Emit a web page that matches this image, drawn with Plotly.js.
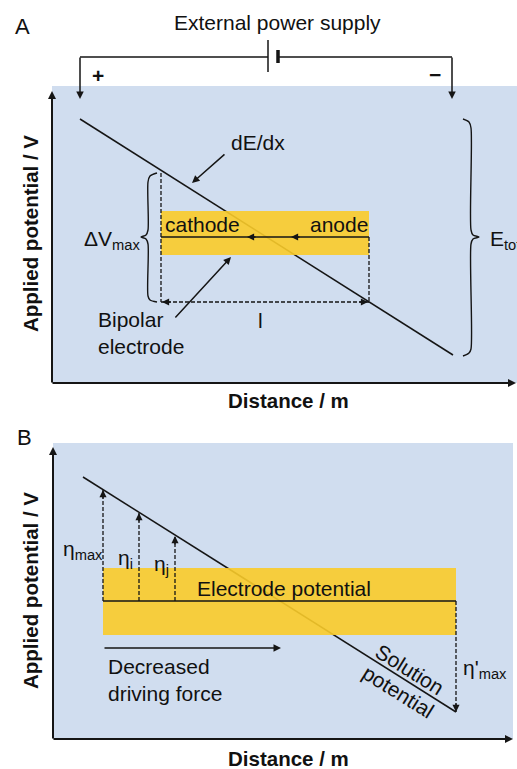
<!DOCTYPE html>
<html><head><meta charset="utf-8">
<script src="https://cdn.plot.ly/plotly-3.0.1.min.js"></script>
<style>html,body{margin:0;padding:0;background:#fff}</style>
</head><body><div id="chart" style="width:517px;height:769px"></div>
<script>
// ===== Diagram data (units: figure pixels, y grows downward) =====
// Panel A
const bgA_x = [52, 517], bgA_y = [86, 383];
const solutionA_x = [80, 453], solutionA_y = [119, 355];
const bandA_x = [161, 369, 369, 161, 161], bandA_y = [211, 211, 255, 255, 211];
const electrodeA_x = [161, 369], electrodeA_y = [237, 237];
const dashLeftA_x = [161, 161], dashLeftA_y = [173, 302];
const dashRightA_x = [369, 369], dashRightA_y = [237, 302];
const lengthA_x = [161, 369], lengthA_y = [302, 302];
const braceDV_x = [157, 150, 148, 148, 146, 141, 146, 148, 148, 150, 157];
const braceDV_y = [173, 176, 182, 230, 235, 237, 239, 244, 296, 300, 302];
const braceE_x = [463, 469, 471, 471, 473, 479, 473, 471, 471, 469, 463];
const braceE_y = [119, 122, 128, 230, 235, 237, 239, 244, 349, 353, 356];
const wireL_x = [80, 268], wireR_x = [278, 452], wire_y = [57, 57];
const plateLong_x = [268, 268], plateLong_y = [40, 72];
const plateShort_x = [278, 278], plateShort_y = [50, 63];
// Panel B
const bgB_x = [53, 513], bgB_y = [443, 739];
const solutionB_x = [83, 456], solutionB_y = [477, 712];
const bandB_x = [103, 456, 456, 103, 103], bandB_y = [568, 568, 635, 635, 568];
const electrodeB_x = [103, 456], electrodeB_y = [601, 601];
const eta_x = [103, 139, 175], eta_top = [490, 513, 536], eta_base = 601;
const etaPrime_x = [456, 456], etaPrime_y = [601, 712];
const driving_x = [103, 281], driving_y = [648, 648];

// arrows: [headX, headY, tailX, tailY]
const axisArrows = [
  [52, 91, 52, 384], [516, 383, 51, 383],
  [53, 447, 53, 740], [513, 739, 52, 739]
];
const wireArrows = [[80, 99, 80, 56], [452, 99, 452, 56]];
const pointerArrows = [
  [192, 183, 226, 153],   // dE/dx
  [231, 257, 174, 319],   // Bipolar electrode
  [281, 648, 103, 648]    // decreased driving force
];
const tipArrows = [
  [247, 237, 257, 237], [291, 237, 301, 237], // current along electrode
  [162, 302, 172, 302], [368, 302, 358, 302], // length l
  [103, 490, 103, 500], [139, 513, 139, 523], [175, 536, 175, 546], // eta
  [456, 712, 456, 702]  // eta'max
];

// ===== Plotly =====
const K = '#151515';
const ln = (x, y, extra) => Object.assign({x: x, y: y, mode: 'lines', type: 'scatter',
  hoverinfo: 'skip', line: {color: K, width: 1.5}}, extra || {});
const bandFill = 'rgba(249,203,41,0.9)';
const traces = [
  ln(solutionA_x, solutionA_y),
  ln(solutionB_x, solutionB_y),
  ln(bandA_x, bandA_y, {fill: 'toself', fillcolor: bandFill, line: {width: 0}}),
  ln(bandB_x, bandB_y, {fill: 'toself', fillcolor: bandFill, line: {width: 0}}),
  ln(electrodeA_x, electrodeA_y),
  ln(electrodeB_x, electrodeB_y),
  ln(dashLeftA_x, dashLeftA_y, {line: {color: K, width: 1.3, dash: '4px,2px'}}),
  ln(dashRightA_x, dashRightA_y, {line: {color: K, width: 1.3, dash: '4px,2px'}}),
  ln(lengthA_x, lengthA_y, {line: {color: K, width: 1.3, dash: '4px,2px'}}),
  ln(braceDV_x, braceDV_y, {line: {color: K, width: 1.4, shape: 'spline', smoothing: 0.8}}),
  ln(braceE_x, braceE_y, {line: {color: K, width: 1.4, shape: 'spline', smoothing: 0.8}}),
  ln(wireL_x, wire_y),
  ln(wireR_x, wire_y),
  ln(plateLong_x, plateLong_y, {line: {color: K, width: 1.5}}),
  ln(plateShort_x, plateShort_y, {line: {color: K, width: 3.5}}),
  ln(etaPrime_x, etaPrime_y, {line: {color: K, width: 1.3, dash: '4px,2px'}})
];
eta_x.forEach((x, i) => traces.push(ln([x, x], [eta_base, eta_top[i]],
  {line: {color: K, width: 1.3, dash: '4px,2px'}})));

const arrowAnn = (a, w, size) => ({x: a[0], y: a[1], ax: a[2], ay: a[3],
  xref: 'x', yref: 'y', axref: 'x', ayref: 'y', showarrow: true, text: '',
  font: {size: 1}, arrowhead: 2, arrowsize: size, arrowwidth: w, arrowcolor: K, standoff: 0});

const F = 'Liberation Sans, Arial, sans-serif';
const txt = (x, y, t, o) => Object.assign({x: x, y: y, xref: 'x', yref: 'y', text: t,
  showarrow: false, xanchor: 'left', yanchor: 'middle',
  font: {family: F, size: 21, color: '#111'}}, o || {});
const bold = (s) => ({family: F, size: s, color: '#111', weight: 'bold'});

const annotations = [];
axisArrows.forEach(a => annotations.push(arrowAnn(a, 2, 0.8)));
wireArrows.forEach(a => annotations.push(arrowAnn(a, 1.5, 1)));
pointerArrows.forEach(a => annotations.push(arrowAnn(a, 1.5, 1)));
tipArrows.forEach(a => annotations.push(arrowAnn(a, 1.3, 1.1)));

annotations.push(
  txt(22, 26, 'A', {xanchor: 'center', font: {family: F, size: 22, color: '#111'}}),
  txt(277, 22, 'External power supply', {xanchor: 'center'}),
  txt(98, 75, '+', {xanchor: 'center', font: bold(21)}),
  txt(435, 74, '−', {xanchor: 'center', font: bold(21)}),
  txt(229, 142, 'dE/dx'),
  txt(163, 224, 'cathode'),
  txt(370, 224, 'anode', {xanchor: 'right'}),
  txt(142, 240, 'ΔV<sub>max</sub>', {xanchor: 'right'}),
  txt(96, 333, 'Bipolar<br>electrode', {align: 'left'}),
  txt(260, 320, 'l', {xanchor: 'center'}),
  txt(488, 240, 'E<sub>tot</sub>'),
  txt(30, 234, 'Applied potential / V', {xanchor: 'center', textangle: -90, font: bold(20.5)}),
  txt(288, 400, 'Distance / m', {xanchor: 'center', font: bold(20.5)}),
  // Panel B
  txt(24, 437, 'B', {xanchor: 'center', font: {family: F, size: 22, color: '#111'}}),
  txt(61, 550, 'η<sub>max</sub>'),
  txt(116, 559, 'η<sub>i</sub>'),
  txt(152, 565, 'η<sub>j</sub>'),
  txt(195, 588, 'Electrode potential'),
  txt(461, 669, 'η\'<sub>max</sub>'),
  txt(106, 680, 'Decreased<br>driving force', {align: 'left'}),
  txt(410, 669, 'Solution', {xanchor: 'center', textangle: 32}),
  txt(398, 691, 'potential', {xanchor: 'center', textangle: 32}),
  txt(30, 591, 'Applied potential / V', {xanchor: 'center', textangle: -90, font: bold(20.5)}),
  txt(288, 758, 'Distance / m', {xanchor: 'center', font: bold(20.5)})
);

const bgColor = '#d0ddef';
const shapes = [
  {type: 'rect', xref: 'x', yref: 'y', x0: bgA_x[0], x1: bgA_x[1], y0: bgA_y[0], y1: bgA_y[1],
   fillcolor: bgColor, line: {width: 0}, layer: 'below'},
  {type: 'rect', xref: 'x', yref: 'y', x0: bgB_x[0], x1: bgB_x[1], y0: bgB_y[0], y1: bgB_y[1],
   fillcolor: bgColor, line: {width: 0}, layer: 'below'}
];

const layout = {
  width: 517, height: 769, margin: {l: 0, r: 0, t: 0, b: 0},
  paper_bgcolor: '#ffffff', plot_bgcolor: 'rgba(0,0,0,0)', showlegend: false,
  xaxis: {range: [0, 517], visible: false, fixedrange: true},
  yaxis: {range: [769, 0], visible: false, fixedrange: true},
  shapes: shapes, annotations: annotations, hovermode: false
};
Plotly.newPlot('chart', traces, layout, {staticPlot: true, displayModeBar: false});
</script></body></html>
